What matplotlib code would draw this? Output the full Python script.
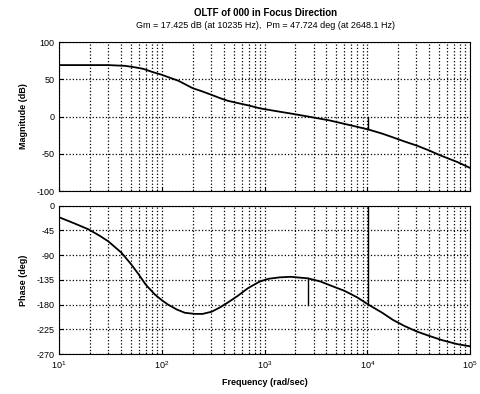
import matplotlib
matplotlib.use('Agg')
import matplotlib.pyplot as plt

plt.rcParams['font.family'] = ['Liberation Sans', 'DejaVu Sans']
plt.rcParams['axes.unicode_minus'] = False

# values
mag_freq = [10, 19, 30, 44, 55, 66, 80, 100, 120, 145, 200, 250, 306, 370, 442, 550, 692, 900, 1200,
            1800, 2648, 4350, 5820, 7500, 10235, 14000, 17800, 23000, 30300, 40000, 51000, 75000, 100000]
mag_db = [69, 69, 69, 68, 66, 64, 60, 56, 52, 48, 38, 33.5, 29, 24.6, 21, 18, 15, 11, 8,
          4, 0, -5.4, -9.5, -13, -17.4, -23, -28, -33.5, -39, -45.6, -52, -61, -69]

ph_freq = [10, 14, 19.3, 25, 30.2, 40.7, 50, 59, 70, 86, 100, 115, 140, 168, 210, 250, 306, 370, 442,
           550, 692, 900, 1100, 1400, 1800, 2648, 3500, 4350, 6000, 8000, 10235, 14000, 17800, 23000,
           30300, 40000, 54000, 75000, 100000]
ph_deg = [-21, -32, -43, -55, -65, -86, -106, -124, -144, -162, -172, -180, -189, -195, -197, -197, -193,
          -185, -176, -164, -150, -138, -133, -130.5, -129.5, -132.3, -138, -145, -155, -167, -180, -195, -208,
          -219, -229, -237, -245, -252, -256]

wcg = 10235
wcp = 2648.1
gm = 17.425
pm = 47.724

mag_ticks = [-100, -50, 0, 50, 100]
ph_ticks = [-270, -225, -180, -135, -90, -45, 0]
f_ticks = [1e1, 1e2, 1e3, 1e4, 1e5]

fig = plt.figure(figsize=(4.81, 3.94), dpi=100)
ax1 = fig.add_axes([0.1227, 0.5152, 0.8545, 0.3782])
ax2 = fig.add_axes([0.1227, 0.1015, 0.8545, 0.3765])

for ax in (ax1, ax2):
    ax.set_xscale('log')
    ax.set_xlim(1e1, 1e5)
    ax.set_xticks(f_ticks)
    ax.grid(True, which='major', linestyle=':', color='black', linewidth=0.9)
    ax.grid(True, which='minor', axis='x', linestyle=':', color='black', linewidth=0.9)
    ax.tick_params(which='both', direction='in', labelsize=6.5, length=3)
    ax.tick_params(which='minor', length=1.5)
    for s in ax.spines.values():
        s.set_linewidth(0.8)

ax1.plot(mag_freq, mag_db, color='black', linewidth=1.3)
ax1.plot([wcg, wcg], [0, -gm], color='black', linewidth=1.0)
ax1.set_ylim(-100, 100)
ax1.set_yticks(mag_ticks)
ax1.set_xticklabels([])
ax1.set_ylabel('Magnitude (dB)', fontsize=6.5, fontweight='bold', labelpad=6)

ax2.plot(ph_freq, ph_deg, color='black', linewidth=1.3)
ax2.plot([wcp, wcp], [-180, pm - 180], color='black', linewidth=1.0)
ax2.plot([wcg, wcg], [0, -180], color='black', linewidth=1.0)
ax2.set_ylim(-270, 0)
ax2.set_yticks(ph_ticks)
ax2.set_ylabel('Phase (deg)', fontsize=6.5, fontweight='bold', labelpad=6)
ax2.set_xlabel('Frequency (rad/sec)', fontsize=6.5, fontweight='bold', labelpad=5)

fig.text(0.552, 0.967, 'OLTF of 000 in Focus Direction', ha='center', va='center',
         fontsize=7, fontweight='bold')
fig.text(0.552, 0.936, 'Gm = 17.425 dB (at 10235 Hz),  Pm = 47.724 deg (at 2648.1 Hz)',
         ha='center', va='center', fontsize=6.5)

fig.savefig('out.png', dpi=100)
